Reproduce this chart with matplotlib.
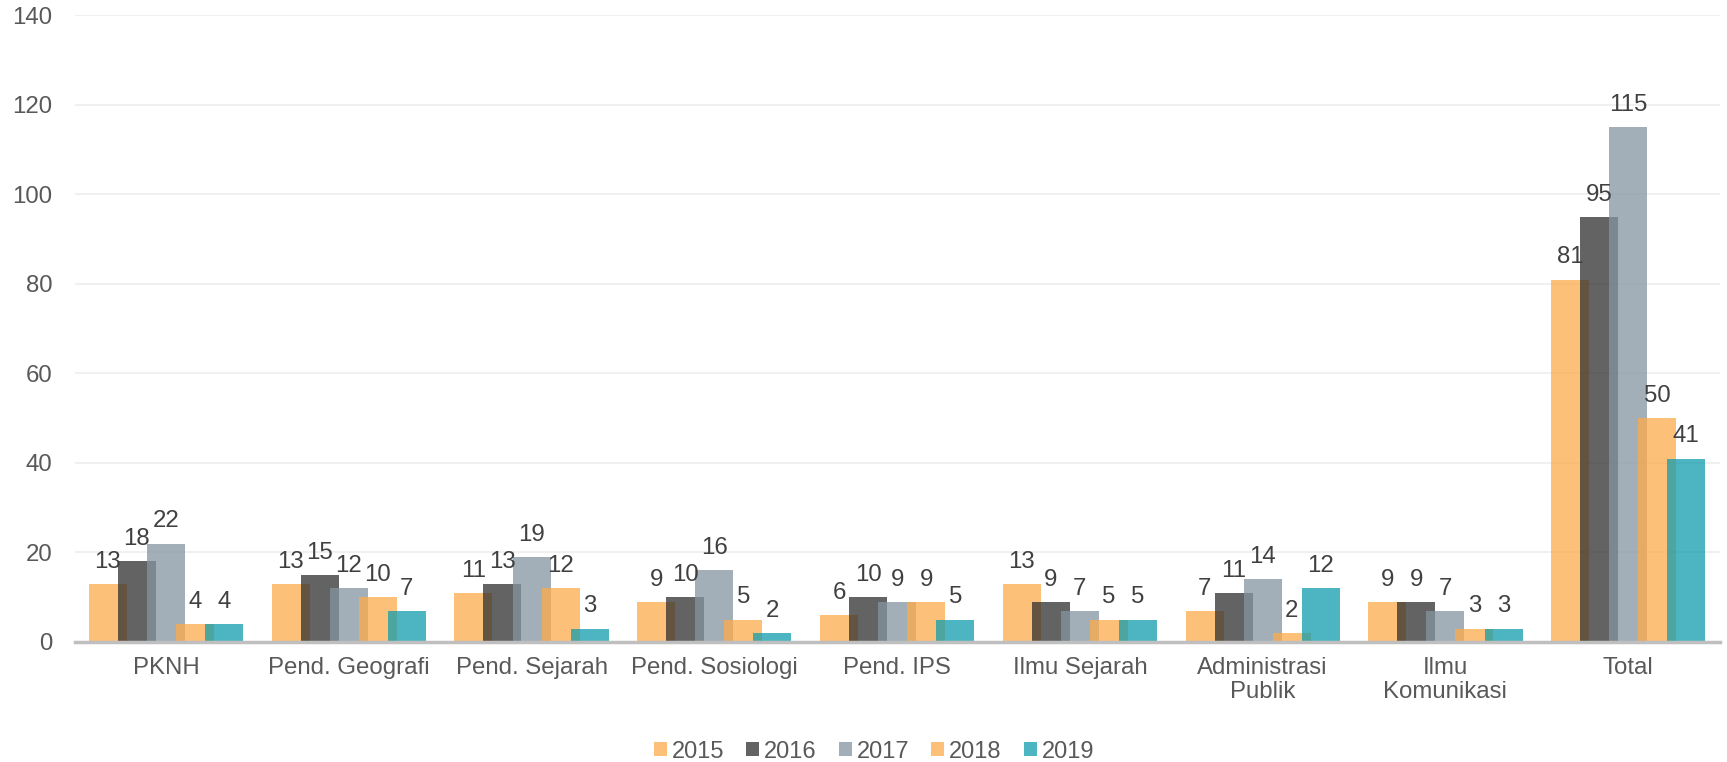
import matplotlib
matplotlib.use("Agg")
import matplotlib.pyplot as plt
import numpy as np

categories = ["PKNH", "Pend. Geografi", "Pend. Sejarah", "Pend. Sosiologi", "Pend. IPS",
              "Ilmu Sejarah", "Administrasi\nPublik", "Ilmu\nKomunikasi", "Total"]
years = ["2015", "2016", "2017", "2018", "2019"]
v2015 = [13, 13, 11, 9, 6, 13, 7, 9, 81]
v2016 = [18, 15, 13, 10, 10, 9, 11, 9, 95]
v2017 = [22, 12, 19, 16, 9, 7, 14, 7, 115]
v2018 = [4, 10, 12, 5, 9, 5, 2, 3, 50]
v2019 = [4, 7, 3, 2, 5, 5, 12, 3, 41]
series = [v2015, v2016, v2017, v2018, v2019]
colors = ["#FDAB4B", "#2F2F2F", "#8495A0", "#FDAB4B", "#119CAC"]
yticks = [0, 20, 40, 60, 80, 100, 120, 140]

plt.rcParams['font.family'] = ['Liberation Sans', 'DejaVu Sans']
fig = plt.figure(figsize=(17.27, 7.62), dpi=100)
ax = fig.add_axes([0.0432, 0.1575, 0.9525, 0.8222])

x = np.arange(len(categories))
step = 0.159
width = 0.208
for i, (vals, c, yr) in enumerate(zip(series, colors, years)):
    pos = x + (i - 2) * step
    ax.bar(pos, vals, width=width, color=c, alpha=0.75, label=yr, zorder=2 + i,
           linewidth=0)
    for p, v in zip(pos, vals):
        ax.annotate(str(v), (p, v), xytext=(0, 8), textcoords="offset points",
                    ha="center", va="bottom", fontsize=17.3, color="#404040", zorder=20)

ax.set_xlim(-0.5, len(categories) - 0.5)
ax.set_ylim(0, 140)
ax.set_yticks(yticks)
ax.set_xticks(x)
ax.set_xticklabels(categories, linespacing=1.12)
ax.tick_params(axis='both', length=0, labelsize=17.3, labelcolor="#595959")
ax.tick_params(axis='x', pad=11)
ax.tick_params(axis='y', pad=16)
ax.grid(axis='y', color="#EEEEEE", linewidth=1.2, zorder=0)
ax.set_axisbelow(True)
for s in ["top", "right", "left"]:
    ax.spines[s].set_visible(False)
ax.spines["bottom"].set_color("#BFBFBF")
ax.spines["bottom"].set_linewidth(2.5)
ax.spines["bottom"].set_zorder(30)

leg = ax.legend(loc="center", bbox_to_anchor=(0.486, -0.1748), ncol=5, frameon=False,
                fontsize=17, handlelength=0.55, handleheight=0.55, handletextpad=0.21,
                columnspacing=0.93, labelcolor="#595959")

fig.savefig("out.png", dpi=100)
